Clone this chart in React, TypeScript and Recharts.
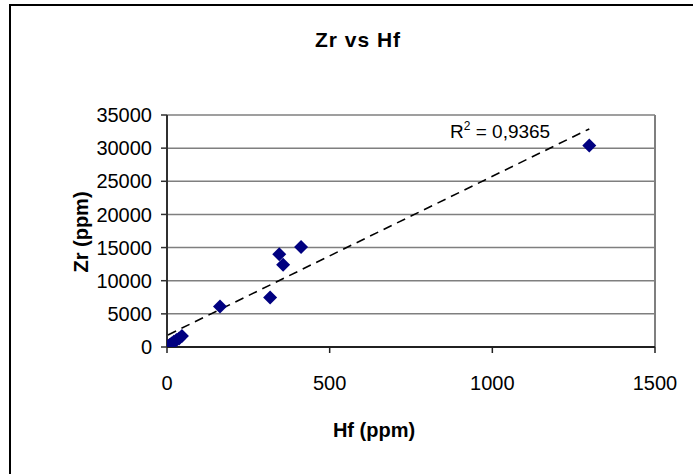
import React from 'react';
import { ScatterChart, Scatter, XAxis, YAxis, CartesianGrid, ReferenceLine } from 'recharts';

const hfValues = [3, 8, 14, 21, 29, 37, 46, 163, 317, 345, 357, 412, 1298];
const zrValues = [100, 300, 520, 800, 1050, 1300, 1650, 6100, 7450, 14000, 12400, 15100, 30400];
const xTicks = [0, 500, 1000, 1500];
const yTicks = [0, 5000, 10000, 15000, 20000, 25000, 30000, 35000];
const trendSlope = 24.0;
const trendIntercept = 1750;
const rSquaredLabel = '0,9365';

const points = hfValues.map((x, i) => ({ x, y: zrValues[i] }));
const trendX = [Math.min(...hfValues), Math.max(...hfValues)];
const trendData = trendX.map((x) => ({ x, y: trendSlope * x + trendIntercept }));

const FONT = '"Liberation Sans", Arial, sans-serif';

const Diamond = (props: any) => {
  const { cx, cy } = props;
  if (cx == null || cy == null) return <g />;
  const r = 7;
  return (
    <polygon
      points={`${cx},${cy - r} ${cx + r},${cy} ${cx},${cy + r} ${cx - r},${cy}`}
      fill="#000080"
    />
  );
};

const NoShape = () => <g />;

export default function App() {
  return (
    <div
      style={{
        position: 'fixed',
        left: 0,
        top: 0,
        width: 693,
        height: 474,
        overflow: 'hidden',
        background: '#fff',
        fontFamily: FONT,
      }}
    >
      <div
        style={{
          position: 'absolute',
          left: 9,
          top: 4,
          width: 720,
          height: 520,
          border: '2px solid #000',
          boxSizing: 'border-box',
        }}
      />
      <div style={{ position: 'absolute', left: 0, top: 0 }}>
        <ScatterChart
          width={693}
          height={474}
          margin={{ top: 115, right: 38, bottom: 0, left: 0 }}
        >
          <CartesianGrid vertical={false} stroke="#7f7f7f" strokeWidth={1.5} />
          <XAxis
            type="number"
            dataKey="x"
            domain={[0, 1500]}
            ticks={xTicks}
            allowDataOverflow
            height={127}
            tickSize={6}
            tickMargin={23}
            axisLine={{ stroke: '#202020', strokeWidth: 2 }}
            tickLine={{ stroke: '#202020', strokeWidth: 1.5 }}
            tick={{ fill: '#000', fontSize: 20, fontFamily: FONT }}
          />
          <YAxis
            type="number"
            dataKey="y"
            domain={[0, 35000]}
            ticks={yTicks}
            allowDataOverflow
            width={167}
            tickSize={6}
            tickMargin={9}
            axisLine={{ stroke: '#303030', strokeWidth: 2 }}
            tickLine={{ stroke: '#303030', strokeWidth: 1.5 }}
            tick={{ fill: '#000', fontSize: 20, fontFamily: FONT }}
          />
          <ReferenceLine x={1500} stroke="#7f7f7f" strokeWidth={2} />
          <Scatter
            data={trendData}
            line={{ stroke: '#000', strokeWidth: 1.6, strokeDasharray: '9 6' }}
            shape={NoShape}
            isAnimationActive={false}
            legendType="none"
          />
          <Scatter data={points} shape={Diamond} isAnimationActive={false} />
        </ScatterChart>
      </div>
      <svg
        width={693}
        height={474}
        style={{ position: 'absolute', left: 0, top: 0, pointerEvents: 'none' }}
      >
        <text x={358} y={47} textAnchor="middle" fontSize={21} fontWeight="bold" letterSpacing={1} fontFamily={FONT} fill="#000">
          Zr vs Hf
        </text>
        <text x={374} y={437} textAnchor="middle" fontSize={20} fontWeight="bold" fontFamily={FONT} fill="#000">
          Hf (ppm)
        </text>
        <text
          x={88}
          y={232}
          textAnchor="middle"
          fontSize={20}
          fontWeight="bold"
          fontFamily={FONT}
          fill="#000"
          transform="rotate(-90 88 232)"
        >
          Zr (ppm)
        </text>
        <text x={450} y={138} fontSize={19} fontFamily={FONT} fill="#000">
          R<tspan fontSize={12} dy={-8}>2</tspan>
          <tspan dy={8}> = {rSquaredLabel}</tspan>
        </text>
      </svg>
    </div>
  );
}
